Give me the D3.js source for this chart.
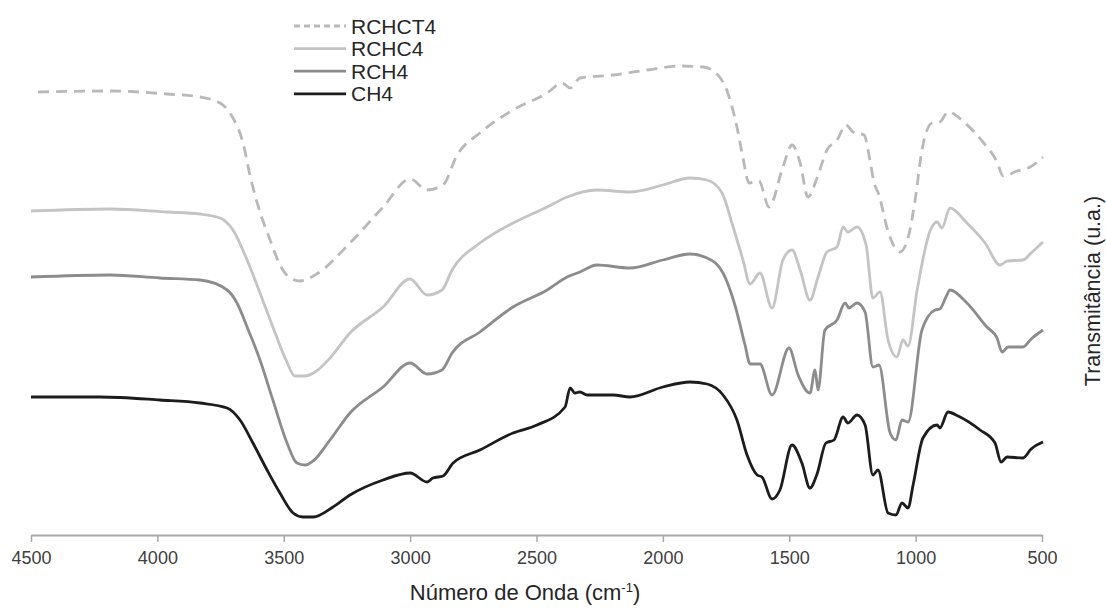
<!DOCTYPE html>
<html>
<head>
<meta charset="utf-8">
<script src="https://cdn.jsdelivr.net/npm/d3@7"></script>
<style>
  body { margin: 0; background: #fff; }
  svg { display: block; }
</style>
</head>
<body>
<svg width="1106" height="608"></svg>
<script>
// FTIR spectra, [wavenumber cm-1, transmittance u.a.]
const ch4 = [
  [4500,27.6],[4227,27.6],[3990,27.0],[3831,26.4],[3724,25.4],[3673,23.0],[3622,18.4],[3566,13.0],
  [3515,8.4],[3463,4.4],[3424,3.6],[3384,3.6],[3305,5.6],[3238,8.0],[3107,11.0],[3000,12.4],
  [2933,10.6],[2910,11.4],[2870,11.8],[2830,14.4],[2724,17.0],[2593,20.4],[2498,22.0],[2387,25.6],
  [2367,29.4],[2348,28.4],[2328,28.6],[2300,28.0],[2197,28.0],[2130,27.6],[2000,29.6],[1893,30.6],
  [1825,30.2],[1762,28.0],[1707,23.0],[1667,16.0],[1627,12.0],[1608,11.6],[1568,7.2],[1537,9.0],
  [1489,18.0],[1450,14.4],[1418,9.4],[1390,12.2],[1355,18.4],[1323,19.0],[1287,23.6],[1268,22.4],
  [1232,24.0],[1200,22.0],[1169,12.0],[1149,13.0],[1109,4.4],[1078,4.0],[1054,6.4],[1030,5.4],
  [1010,10.0],[971,19.4],[915,22.0],[904,21.4],[872,24.6],[832,23.8],[745,21.0],[686,18.4],
  [662,14.6],[638,15.6],[575,15.4],[543,17.2],[496,18.6]
];
const rch4 = [
  [4500,51.6],[4187,52.0],[3990,51.4],[3831,51.0],[3724,49.0],[3685,46.4],[3645,41.6],[3594,35.0],
  [3543,27.0],[3487,18.4],[3448,14.4],[3416,14.0],[3384,14.8],[3317,19.0],[3238,24.4],[3107,29.6],
  [3000,34.4],[2933,32.2],[2874,33.0],[2834,36.4],[2724,40.6],[2593,45.6],[2458,49.0],[2379,51.6],
  [2328,52.6],[2261,54.0],[2130,53.4],[2000,55.0],[1893,56.2],[1825,55.4],[1762,52.4],[1715,46.0],
  [1675,38.0],[1655,34.2],[1616,34.2],[1568,28.0],[1501,37.4],[1465,32.0],[1418,28.4],[1398,33.0],
  [1386,29.0],[1359,41.0],[1311,43.0],[1279,46.4],[1264,45.4],[1232,46.4],[1200,44.6],[1169,33.6],
  [1145,34.0],[1101,20.4],[1078,19.0],[1054,23.0],[1030,22.6],[975,41.0],[923,45.0],[904,45.2],
  [880,47.6],[864,49.0],[797,46.4],[718,41.6],[678,39.4],[658,36.6],[634,37.6],[575,37.6],
  [543,39.2],[496,41.0]
];
const rchc4 = [
  [4500,64.8],[4187,65.2],[3962,64.6],[3831,64.2],[3752,63.4],[3701,61.0],[3645,55.0],[3594,48.4],
  [3543,41.6],[3491,35.0],[3456,31.8],[3416,31.8],[3376,32.6],[3317,35.4],[3238,40.4],[3107,45.6],
  [3000,51.2],[2933,48.0],[2874,49.0],[2834,53.0],[2724,58.4],[2593,62.4],[2458,65.6],[2379,67.6],
  [2261,69.0],[2130,68.6],[2000,70.0],[1893,71.4],[1825,71.0],[1766,68.4],[1722,61.6],[1683,55.0],
  [1655,50.2],[1616,52.4],[1568,45.4],[1525,55.0],[1489,57.0],[1457,53.0],[1418,47.0],[1386,51.6],
  [1351,56.6],[1311,57.6],[1287,61.6],[1268,60.6],[1232,61.6],[1196,58.0],[1169,47.4],[1141,48.6],
  [1109,39.0],[1074,35.6],[1050,39.0],[1030,37.8],[994,49.0],[943,60.8],[915,62.6],[896,61.4],
  [864,65.4],[797,62.4],[725,58.4],[666,54.0],[638,54.8],[575,55.0],[543,56.4],[496,58.6]
];
const rchct4 = [
  [4472,88.6],[4187,88.8],[3962,88.2],[3831,87.6],[3752,86.4],[3701,83.4],[3661,78.4],[3634,72.0],
  [3594,64.6],[3554,59.0],[3515,54.0],[3475,51.4],[3436,50.8],[3364,52.4],[3238,58.4],[3107,65.6],
  [3000,71.2],[2933,69.0],[2870,70.0],[2814,76.0],[2724,80.4],[2593,85.0],[2458,88.4],[2399,90.4],
  [2367,89.4],[2328,91.4],[2197,92.0],[2063,93.0],[1932,93.8],[1841,93.6],[1786,92.2],[1746,88.8],
  [1707,81.6],[1683,75.4],[1659,70.4],[1620,70.8],[1580,65.6],[1525,73.6],[1489,78.0],[1457,74.4],
  [1426,67.6],[1390,71.4],[1351,77.0],[1311,79.0],[1275,82.0],[1248,80.6],[1204,80.0],[1181,75.0],
  [1165,70.6],[1145,68.0],[1113,61.4],[1086,57.8],[1062,56.6],[1030,59.4],[1002,67.0],[975,77.0],
  [935,82.4],[904,82.6],[872,84.6],[805,82.4],[737,78.8],[678,74.6],[654,71.8],[599,72.8],
  [547,73.6],[496,75.6]
];

const xTicks = [4500, 4000, 3500, 3000, 2500, 2000, 1500, 1000, 500];

const series = [
  { name: "RCHCT4", data: rchct4, color: "#b9b9b9", dash: "11,7" },
  { name: "RCHC4", data: rchc4, color: "#c4c4c4", dash: null },
  { name: "RCH4", data: rch4, color: "#8c8c8c", dash: null },
  { name: "CH4", data: ch4, color: "#1c1c1c", dash: null }
];

const svg = d3.select("svg");
const axisY = 535;

const x = d3.scaleLinear().domain([4500, 500]).range([31, 1042]);
const y = d3.scaleLinear().domain([0, 100]).range([axisY, 35]);

// curves
const line = d3.line()
  .x(d => x(d[0]))
  .y(d => y(d[1]))
  .curve(d3.curveMonotoneX);

series.forEach(s => {
  svg.append("path")
    .datum(s.data)
    .attr("d", line)
    .attr("fill", "none")
    .attr("stroke", s.color)
    .attr("stroke-width", 2.8)
    .attr("stroke-linejoin", "round")
    .attr("stroke-dasharray", s.dash);
});

// x axis
const axis = svg.append("g")
  .attr("transform", `translate(0,${axisY})`)
  .call(d3.axisBottom(x).tickValues(xTicks).tickFormat(d3.format("d"))
    .tickSize(7).tickSizeOuter(0).tickPadding(9));
axis.select(".domain").attr("stroke", "#a8a8a8").attr("stroke-width", 2);
axis.selectAll(".tick line").attr("stroke", "#a8a8a8").attr("stroke-width", 1.5);
axis.selectAll(".tick text")
  .attr("fill", "#404040")
  .style("font-family", "'Liberation Sans Narrow', 'Liberation Sans', Arial, sans-serif")
  .style("font-size", "18px");

// axis titles
const title = svg.append("text")
  .attr("x", 525)
  .attr("y", 600)
  .attr("text-anchor", "middle")
  .attr("fill", "#262626")
  .style("font-family", "'Liberation Sans', Arial, sans-serif")
  .style("font-size", "22px");
title.append("tspan").text("Número de Onda (cm");
title.append("tspan").attr("dy", -8).style("font-size", "13px").text("-1");
title.append("tspan").attr("dy", 8).text(")");

svg.append("text")
  .attr("transform", "translate(1093,291) rotate(-90)")
  .attr("text-anchor", "middle")
  .attr("dominant-baseline", "central")
  .attr("fill", "#262626")
  .style("font-family", "'Liberation Sans', Arial, sans-serif")
  .style("font-size", "21.5px")
  .text("Transmitância (u.a.)");

// legend
const legend = svg.append("g");
series.forEach((s, i) => {
  const ly = 26 + i * 22.6;
  legend.append("line")
    .attr("x1", 294).attr("x2", 346)
    .attr("y1", ly).attr("y2", ly)
    .attr("stroke", s.color)
    .attr("stroke-width", 2.8)
    .attr("stroke-dasharray", s.dash ? "6,4" : null);
  legend.append("text")
    .attr("x", 351)
    .attr("y", ly + 7.5)
    .attr("fill", "#262626")
    .style("font-family", "'Liberation Sans', Arial, sans-serif")
    .style("font-size", "21px")
    .text(s.name);
});
</script>
</body>
</html>
